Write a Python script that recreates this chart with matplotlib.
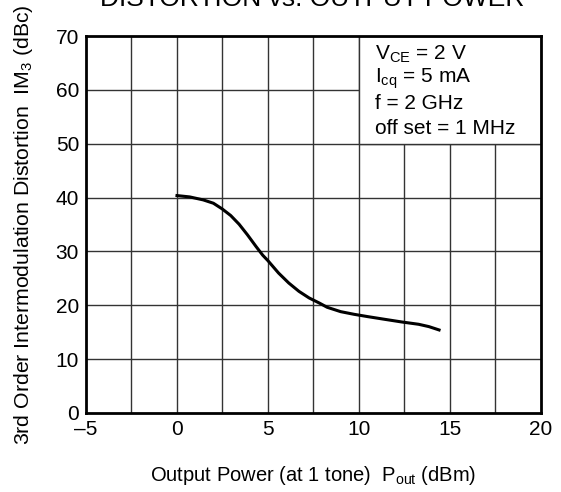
import numpy as np
import matplotlib.pyplot as plt
from matplotlib.patches import Rectangle

plt.rcParams['font.family'] = ['Liberation Sans', 'DejaVu Sans']
plt.rcParams['mathtext.fontset'] = 'custom'
plt.rcParams['mathtext.rm'] = 'Liberation Sans'

# curve (Pout in dBm, IM3 in dBc)
pout = [0.0, 0.7, 1.44, 2.0, 2.48, 2.95, 3.41, 3.87, 4.34, 4.71, 5.0, 5.58, 6.14, 6.7, 7.26,
        7.83, 8.25, 8.99, 9.72, 10.47, 11.4, 12.35, 13.28, 13.84, 14.4]
im3 = [40.37, 40.12, 39.57, 38.95, 37.9, 36.67, 35.06, 33.09, 30.93, 29.3, 28.27, 25.99, 24.14, 22.59, 21.36,
       20.4, 19.63, 18.82, 18.33, 17.9, 17.4, 16.9, 16.47, 16.04, 15.42]

xticks = [-5, 0, 5, 10, 15, 20]
xtick_labels = ['\u20135', '0', '5', '10', '15', '20']
yticks = [0, 10, 20, 30, 40, 50, 60, 70]
cond_lines = [r'$\mathregular{V_{CE}}$ = 2 V', r'$\mathregular{I_{cq}}$ = 5 mA', 'f = 2 GHz', 'off set = 1 MHz']

fig = plt.figure(figsize=(5.61, 4.92), dpi=100)
ax = fig.add_axes([0.1533, 0.1606, 0.811, 0.7662])

# grid every 2.5 dBm and 10 dBc
for gx in np.arange(-2.5, 20, 2.5):
    ax.axvline(gx, color='#333333', lw=1.0, zorder=1)
for gy in range(10, 70, 10):
    ax.axhline(gy, color='#333333', lw=1.0, zorder=1)

# conditions box covers the grid in the upper right
ax.add_patch(Rectangle((10, 50), 10, 20, facecolor='white', edgecolor='#333333', lw=1.0, zorder=2))
ytxt = 66.6
for line in cond_lines:
    ax.text(10.9, ytxt, line, fontsize=15, va='center', ha='left', zorder=3)
    ytxt -= 4.6

ax.plot(pout, im3, color='black', lw=2.2, zorder=4, solid_joinstyle='round')

ax.set_xlim(-5, 20)
ax.set_ylim(0, 70)
ax.set_xticks(xticks)
ax.set_xticklabels(xtick_labels)
ax.set_yticks(yticks)
ax.tick_params(length=0, labelsize=15, pad=5)
for s in ax.spines.values():
    s.set_linewidth(2.0)
    s.set_zorder(5)

ax.set_xlabel(r'Output Power (at 1 tone)  $\mathregular{P_{out}}$ (dBm)', fontsize=14.5, labelpad=18)
ax.set_ylabel(r'3rd Order Intermodulation Distortion  $\mathregular{IM_{3}}$ (dBc)', fontsize=15.3, labelpad=15)

fig.text(0.556, 0.987, 'DISTORTION vs. OUTPUT POWER', fontsize=19, ha='center', va='baseline')

fig.savefig('out.png', dpi=100)
